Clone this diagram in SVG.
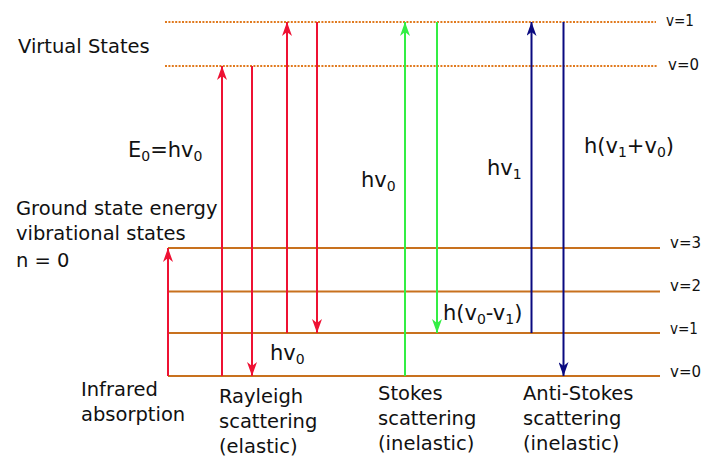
<svg xmlns="http://www.w3.org/2000/svg" width="703" height="462" viewBox="0 0 703 462">
<style>
.dot{stroke:#e07a1e;stroke-width:2;stroke-dasharray:2 1.4;fill:none}
.lvl{stroke:#c8711e;stroke-width:2;fill:none}
.r{stroke:#ee1133;stroke-width:2;fill:none}
.g{stroke:#33ee44;stroke-width:2;fill:none}
.b{stroke:#0a0a80;stroke-width:2;fill:none}
.t{font-family:"DejaVu Sans",sans-serif;font-size:19.5px;fill:#111}
.m{font-family:"DejaVu Sans",sans-serif;font-size:21px;fill:#111}
.v{font-family:"DejaVu Sans",sans-serif;font-size:15px;fill:#111}
.s{font-size:14px}
</style>
<defs>
<marker id="ar" viewBox="0 0 14 10" refX="14" refY="5" markerWidth="14" markerHeight="10" markerUnits="userSpaceOnUse" orient="auto"><path d="M14 5 L0 0 L4 5 L0 10 Z" fill="#ee1133"/></marker>
<marker id="ag" viewBox="0 0 14 10" refX="14" refY="5" markerWidth="14" markerHeight="10" markerUnits="userSpaceOnUse" orient="auto"><path d="M14 5 L0 0 L4 5 L0 10 Z" fill="#33ee44"/></marker>
<marker id="ab" viewBox="0 0 14 10" refX="14" refY="5" markerWidth="14" markerHeight="10" markerUnits="userSpaceOnUse" orient="auto"><path d="M14 5 L0 0 L4 5 L0 10 Z" fill="#0a0a80"/></marker>
</defs>
<g id="levels">
<line id="virtual-v1" class="dot" x1="165" y1="22" x2="656" y2="22"/>
<line id="virtual-v0" class="dot" x1="165" y1="66" x2="658" y2="66"/>
<line id="level-v3" class="lvl" x1="168" y1="248" x2="660" y2="248"/>
<line id="level-v2" class="lvl" x1="168" y1="291.5" x2="660" y2="291.5"/>
<line id="level-v1" class="lvl" x1="168" y1="333" x2="660" y2="333"/>
<line id="level-v0" class="lvl" x1="168" y1="376" x2="660" y2="376"/>
</g>
<g id="connectors">
<line class="r" x1="168" y1="376" x2="168" y2="248" marker-end="url(#ar)"/>
<line class="r" x1="222" y1="376" x2="222" y2="66" marker-end="url(#ar)"/>
<line class="r" x1="252" y1="66" x2="252" y2="376" marker-end="url(#ar)"/>
<line class="r" x1="287" y1="333" x2="287" y2="22" marker-end="url(#ar)"/>
<line class="r" x1="317" y1="22" x2="317" y2="333" marker-end="url(#ar)"/>
<line class="g" x1="405" y1="376" x2="405" y2="22" marker-end="url(#ag)"/>
<line class="g" x1="437" y1="22" x2="437" y2="333" marker-end="url(#ag)"/>
<line class="b" x1="531.5" y1="333" x2="531.5" y2="22" marker-end="url(#ab)"/>
<line class="b" x1="563.5" y1="22" x2="563.5" y2="376" marker-end="url(#ab)"/>
</g>
<g id="labels">
<text class="t" x="18" y="53" font-size="20">Virtual States</text>
<text class="t" x="16" y="215">Ground state energy</text>
<text class="t" x="16" y="240">vibrational states</text>
<text class="t" x="16" y="267">n = 0</text>
<text class="t" x="81" y="396">Infrared</text>
<text class="t" x="81" y="421">absorption</text>
<text class="t" x="219" y="403">Rayleigh</text>
<text class="t" x="219" y="428">scattering</text>
<text class="t" x="219" y="453">(elastic)</text>
<text class="t" x="378" y="400">Stokes</text>
<text class="t" x="378" y="425">scattering</text>
<text class="t" x="378" y="450">(inelastic)</text>
<text class="t" x="523" y="400">Anti-Stokes</text>
<text class="t" x="523" y="425">scattering</text>
<text class="t" x="523" y="450">(inelastic)</text>
<text class="m" x="128" y="157">E<tspan class="s" dy="4">0</tspan><tspan dy="-4">=hv</tspan><tspan class="s" dy="4">0</tspan></text>
<text class="m" x="270" y="360">hv<tspan class="s" dy="4">0</tspan></text>
<text class="m" x="361" y="187">hv<tspan class="s" dy="4">0</tspan></text>
<text class="m" x="487" y="175">hv<tspan class="s" dy="4">1</tspan></text>
<text class="m" x="584" y="153">h(v<tspan class="s" dy="4">1</tspan><tspan dy="-4">+v</tspan><tspan class="s" dy="4">0</tspan><tspan dy="-4">)</tspan></text>
<text class="m" x="443" y="320">h(v<tspan class="s" dy="4">0</tspan><tspan dy="-4">-v</tspan><tspan class="s" dy="4">1</tspan><tspan dy="-4">)</tspan></text>
<text class="v" x="666" y="26" textLength="28" lengthAdjust="spacingAndGlyphs">v=1</text>
<text class="v" x="668" y="70" textLength="31" lengthAdjust="spacingAndGlyphs">v=0</text>
<text class="v" x="670" y="248" textLength="31" lengthAdjust="spacingAndGlyphs">v=3</text>
<text class="v" x="670" y="291" textLength="31" lengthAdjust="spacingAndGlyphs">v=2</text>
<text class="v" x="670" y="334" textLength="28" lengthAdjust="spacingAndGlyphs">v=1</text>
<text class="v" x="670" y="377" textLength="31" lengthAdjust="spacingAndGlyphs">v=0</text>
</g>
</svg>
